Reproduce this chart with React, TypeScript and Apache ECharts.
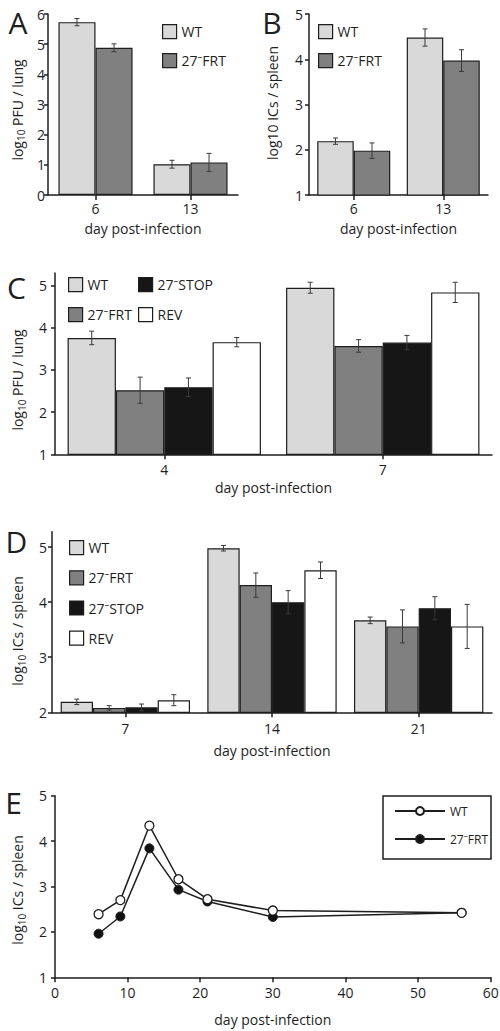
import React, { useEffect, useRef } from 'react';
import * as echarts from 'echarts';

const FONT = '"Open Sans", "Noto Sans", "DejaVu Sans", sans-serif';
const INK = '#1e1e1e';
const ERR = '#3a3a3a';
const C_WT = '#d9d9d9';
const C_FRT = '#808080';
const C_STOP = '#161616';
const C_REV = '#ffffff';

const N_WT = 'WT';
const N_FRT = '27⁻FRT';
const N_STOP = '27⁻STOP';
const N_REV = 'REV';

// Panel A: log10 PFU / lung
const aDays = ['6', '13'];
const aWT = [5.73, 1.02];
const aFRT = [4.88, 1.08];
const aWTErr = [0.12, 0.13];
const aFRTErr = [0.13, 0.3];

// Panel B: log10 ICs / spleen
const bDays = ['6', '13'];
const bWT = [2.19, 4.48];
const bFRT = [1.98, 3.97];
const bWTErr = [0.07, 0.19];
const bFRTErr = [0.17, 0.24];

// Panel C: log10 PFU / lung
const cDays = ['4', '7'];
const cWT = [3.76, 4.95];
const cFRT = [2.52, 3.57];
const cSTOP = [2.59, 3.65];
const cREV = [3.66, 4.84];
const cWTErr = [0.16, 0.13];
const cFRTErr = [0.31, 0.15];
const cSTOPErr = [0.22, 0.17];
const cREVErr = [0.11, 0.24];

// Panel D: log10 ICs / spleen
const dDays = ['7', '14', '21'];
const dWT = [2.19, 4.98, 3.67];
const dFRT = [2.08, 4.31, 3.56];
const dSTOP = [2.09, 4.0, 3.89];
const dREV = [2.22, 4.58, 3.56];
const dWTErr = [0.05, 0.05, 0.06];
const dFRTErr = [0.04, 0.22, 0.3];
const dSTOPErr = [0.06, 0.21, 0.21];
const dREVErr = [0.1, 0.15, 0.4];

// Panel E: time course
const eDays = [6, 9, 13, 17, 21, 30, 56];
const eWT = [2.39, 2.7, 4.34, 3.16, 2.72, 2.47, 2.42];
const eFRT = [1.96, 2.34, 3.84, 2.93, 2.67, 2.33, 2.42];

const aTicks = [0, 1, 2, 3, 4, 5, 6];
const bTicks = [1, 2, 3, 4, 5];
const cTicks = [1, 2, 3, 4, 5];
const dTicks = [2, 3, 4, 5];
const eTicks = [1, 2, 3, 4, 5];

const GAP_A = 0.22;
const GAP_B = 0.184;
const GAP_C = 0.115;
const GAP_D = 0.118;

const bar = (name: string, data: number[], color: string, gi: number, gap: number) => ({
  type: 'bar',
  name,
  data,
  xAxisIndex: gi,
  yAxisIndex: gi,
  barGap: '0%',
  barCategoryGap: `${gap * 100}%`,
  itemStyle: { color, borderColor: INK, borderWidth: 1.2 },
  silent: true,
  z: 2,
});

const errSeries = (gi: number, vals: number[][], errs: number[][], gap: number) => {
  const data: number[][] = [];
  vals.forEach((arr, si) => arr.forEach((v, ci) => data.push([ci, v, errs[si][ci], si])));
  const n = vals.length;
  return {
    type: 'custom',
    xAxisIndex: gi,
    yAxisIndex: gi,
    z: 5,
    silent: true,
    clip: false,
    encode: { x: 0, y: 1 },
    data,
    renderItem: (params: any, api: any) => {
      const ci = api.value(0);
      const v = api.value(1);
      const e = api.value(2);
      const si = api.value(3);
      const band = api.size([1, 0])[0];
      const w = (band * (1 - gap)) / n;
      const x = api.coord([ci, v])[0] + (si - (n - 1) / 2) * w;
      const y1 = api.coord([ci, v + e])[1];
      const y2 = api.coord([ci, v - e])[1];
      const cap = 2.5;
      const style = { stroke: ERR, lineWidth: 1 };
      return {
        type: 'group',
        children: [
          { type: 'line', shape: { x1: x, y1, x2: x, y2 }, style },
          { type: 'line', shape: { x1: x - cap, y1, x2: x + cap, y2: y1 }, style },
          { type: 'line', shape: { x1: x - cap, y1: y2, x2: x + cap, y2 }, style },
        ],
      };
    },
  };
};

const axisLine = { show: true, lineStyle: { color: INK, width: 1.5 } };

const catX = (gi: number, data: string[], nameGap: number, margin: number) => ({
  type: 'category',
  gridIndex: gi,
  data,
  name: 'day post-infection',
  nameLocation: 'middle',
  nameGap,
  nameTextStyle: { fontSize: 14, color: INK, fontFamily: FONT },
  axisLine,
  axisTick: { show: true, alignWithLabel: true, length: 5, lineStyle: { color: INK, width: 1.5 } },
  axisLabel: { fontSize: 14, color: INK, margin, fontFamily: FONT },
  splitLine: { show: false },
});

const valY = (gi: number, min: number, max: number, ticks: number[], margin: number) => ({
  type: 'value',
  gridIndex: gi,
  min,
  max,
  interval: 1,
  axisLine,
  axisTick: { show: true, length: 4, customValues: ticks, lineStyle: { color: INK, width: 1.5 } },
  axisLabel: { fontSize: 14, color: INK, margin, customValues: ticks, fontFamily: FONT },
  splitLine: { show: false },
});

const boxLegend = (names: string[], left: number, top: number, extra: any = {}) => ({
  data: names,
  left,
  top,
  padding: 0,
  icon: 'rect',
  itemWidth: 14,
  itemHeight: 14,
  selectedMode: false,
  itemStyle: { borderColor: INK, borderWidth: 1.2 },
  textStyle: { fontSize: 14, color: INK, fontFamily: FONT },
  ...extra,
});

const RICH = {
  a: { fontSize: 14, fontFamily: FONT, lineHeight: 18, verticalAlign: 'middle', fill: INK },
  s: { fontSize: 10, fontFamily: FONT, lineHeight: 10, verticalAlign: 'bottom', fill: INK },
};

const yTitle = (x: number, y: number, text: string) => ({
  type: 'text',
  x,
  y,
  rotation: Math.PI / 2,
  silent: true,
  style: { text, rich: RICH, align: 'center', verticalAlign: 'middle', fill: INK, font: `14px ${FONT}` },
});

const letter = (x: number, y: number, text: string) => ({
  type: 'text',
  x,
  y,
  silent: true,
  style: { text, font: `30px ${FONT}`, fill: INK, align: 'center', verticalAlign: 'middle' },
});

const grid = (left: number, top: number, width: number, height: number) => ({
  left,
  top,
  width,
  height,
  containLabel: false,
  outerBoundsMode: 'none',
});

const E_WT = 'WT (E)';
const E_FRT = '27⁻FRT (E)';

const option: any = {
  animation: false,
  backgroundColor: '#ffffff',
  textStyle: { fontFamily: FONT },
  grid: [
    grid(48, 14, 190, 181),
    grid(309, 14, 179, 181),
    grid(55, 273, 437, 181.3),
    grid(52, 531.7, 440, 180.6),
    grid(55, 795.7, 435.7, 181.6),
  ],
  xAxis: [
    catX(0, aDays, 26, 6),
    catX(1, bDays, 26, 6),
    catX(2, cDays, 26, 8),
    catX(3, dDays, 31, 9),
    {
      type: 'value',
      gridIndex: 4,
      min: 0,
      max: 60,
      interval: 10,
      name: 'day post-infection',
      nameLocation: 'middle',
      nameGap: 35,
      nameTextStyle: { fontSize: 14, color: INK, fontFamily: FONT },
      axisLine,
      axisTick: { show: true, length: 5, lineStyle: { color: INK, width: 1.5 } },
      axisLabel: { fontSize: 14, color: INK, margin: 8, fontFamily: FONT },
      splitLine: { show: false },
    },
  ],
  yAxis: [
    valY(0, 0, 6, aTicks, 3),
    valY(1, 1, 5, bTicks, 6),
    valY(2, 1, 5.3, cTicks, 8),
    valY(3, 2, 5.28, dTicks, 5),
    valY(4, 1, 5, eTicks, 8),
  ],
  legend: [
    boxLegend([N_WT], 162, 24),
    boxLegend([N_FRT], 162, 53),
    boxLegend([N_WT], 318, 24),
    boxLegend([N_FRT], 318, 53),
    boxLegend([N_WT], 68, 277),
    boxLegend([N_STOP], 138, 277),
    boxLegend([N_FRT], 68, 307),
    boxLegend([N_REV], 138, 307),
    boxLegend([N_WT, N_FRT, N_STOP, N_REV], 69, 540, { orient: 'vertical', itemGap: 15 }),
    {
      data: [E_WT, E_FRT],
      left: 394,
      top: 805,
      padding: 0,
      orient: 'vertical',
      itemWidth: 50,
      itemHeight: 10,
      itemGap: 16,
      selectedMode: false,
      formatter: (n: string) => n.replace(' (E)', ''),
      textStyle: { fontSize: 12, color: INK, fontFamily: FONT },
    },
  ],
  graphic: [
    letter(18, 22, 'A'),
    letter(272, 22, 'B'),
    letter(16.5, 287.5, 'C'),
    letter(16.5, 541.7, 'D'),
    letter(13.5, 802.5, 'E'),
    yTitle(17, 110, '{a|log}{s|10}{a| PFU / lung}'),
    yTitle(272, 103, '{a|log10 ICs / spleen}'),
    yTitle(17.5, 380, '{a|log}{s|10}{a| PFU / lung}'),
    yTitle(17.5, 631, '{a|log}{s|10}{a| ICs / spleen}'),
    yTitle(17.5, 890, '{a|log}{s|10}{a| ICs / spleen}'),
    {
      type: 'rect',
      silent: true,
      shape: { x: 383, y: 796, width: 108, height: 63 },
      style: { fill: 'none', stroke: INK, lineWidth: 1.5 },
    },
  ],
  series: [
    bar(N_WT, aWT, C_WT, 0, GAP_A),
    bar(N_FRT, aFRT, C_FRT, 0, GAP_A),
    errSeries(0, [aWT, aFRT], [aWTErr, aFRTErr], GAP_A),

    bar(N_WT, bWT, C_WT, 1, GAP_B),
    bar(N_FRT, bFRT, C_FRT, 1, GAP_B),
    errSeries(1, [bWT, bFRT], [bWTErr, bFRTErr], GAP_B),

    bar(N_WT, cWT, C_WT, 2, GAP_C),
    bar(N_FRT, cFRT, C_FRT, 2, GAP_C),
    bar(N_STOP, cSTOP, C_STOP, 2, GAP_C),
    bar(N_REV, cREV, C_REV, 2, GAP_C),
    errSeries(2, [cWT, cFRT, cSTOP, cREV], [cWTErr, cFRTErr, cSTOPErr, cREVErr], GAP_C),

    bar(N_WT, dWT, C_WT, 3, GAP_D),
    bar(N_FRT, dFRT, C_FRT, 3, GAP_D),
    bar(N_STOP, dSTOP, C_STOP, 3, GAP_D),
    bar(N_REV, dREV, C_REV, 3, GAP_D),
    errSeries(3, [dWT, dFRT, dSTOP, dREV], [dWTErr, dFRTErr, dSTOPErr, dREVErr], GAP_D),

    {
      type: 'line',
      name: E_WT,
      xAxisIndex: 4,
      yAxisIndex: 4,
      data: eDays.map((d, i) => [d, eWT[i]]),
      symbol: 'circle',
      symbolSize: 9,
      silent: true,
      z: 4,
      lineStyle: { color: INK, width: 1.5 },
      itemStyle: { color: '#ffffff', borderColor: INK, borderWidth: 1.3 },
    },
    {
      type: 'line',
      name: E_FRT,
      xAxisIndex: 4,
      yAxisIndex: 4,
      data: eDays.map((d, i) => [d, eFRT[i]]),
      symbol: 'circle',
      symbolSize: 9,
      silent: true,
      z: 3,
      lineStyle: { color: INK, width: 1.5 },
      itemStyle: { color: '#111111', borderColor: INK, borderWidth: 1 },
    },
  ],
};

export default function App() {
  const ref = useRef<HTMLDivElement>(null);
  useEffect(() => {
    if (!ref.current) return;
    const chart = echarts.init(ref.current, null, { renderer: 'svg' });
    chart.setOption(option);
    return () => chart.dispose();
  }, []);
  return (
    <div
      ref={ref}
      style={{ position: 'absolute', left: 0, top: 0, width: 500, height: 1031, background: '#fff' }}
    />
  );
}
